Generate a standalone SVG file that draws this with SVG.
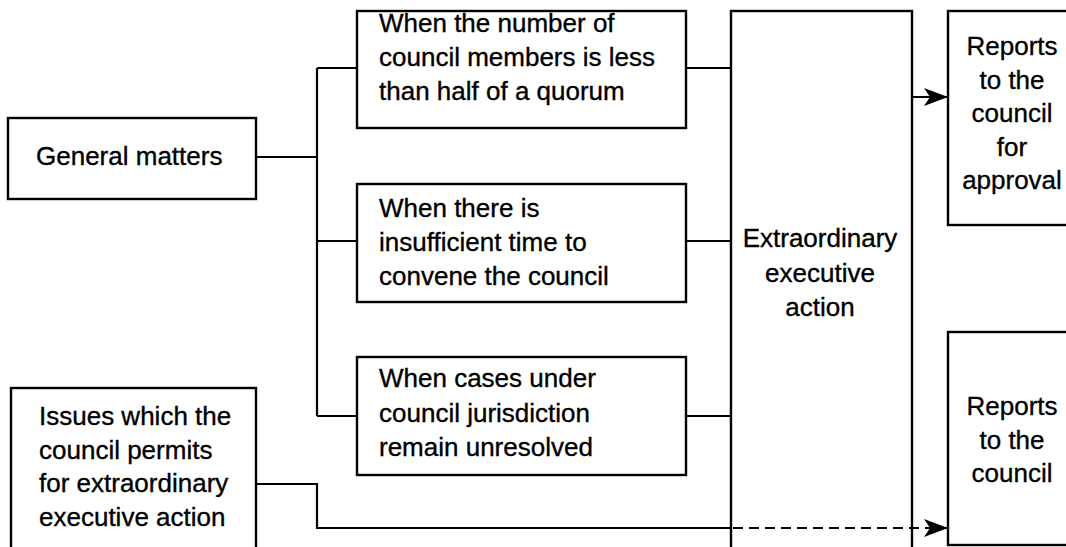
<svg xmlns="http://www.w3.org/2000/svg" width="1066" height="547" viewBox="0 0 1066 547">
  <style>
    .box { fill: #fff; stroke: #000; stroke-width: 2.4; }
    .wire { fill: none; stroke: #000; stroke-width: 2.2; }
    .dash { stroke-dasharray: 10 6; }
    text { font-family: "Liberation Sans", Arial, sans-serif; font-size: 26px; fill: #000; stroke: #000; stroke-width: 0.35; }
    .mid { text-anchor: middle; }
  </style>
  <defs>
    <marker id="arrow" viewBox="0 0 24 18" refX="24" refY="9" markerWidth="24" markerHeight="18" markerUnits="userSpaceOnUse" orient="auto">
      <path d="M0,0 L24,9 L0,18 L6,9 Z" fill="#000" stroke="none"/>
    </marker>
  </defs>
  <rect width="1066" height="547" fill="#fff"/>

  <g id="general-matters">
    <rect class="box" x="8" y="118" width="248" height="81"/>
    <text x="36" y="165">General matters</text>
  </g>

  <g id="issues-permitted">
    <rect class="box" x="11" y="388" width="245" height="180"/>
    <text x="39" y="425">Issues which the</text>
    <text x="39" y="458.5">council permits</text>
    <text x="39" y="492">for extraordinary</text>
    <text x="39" y="525.5">executive action</text>
  </g>

  <g id="cond-quorum">
    <rect class="box" x="357" y="11" width="329" height="117"/>
    <text x="379" y="32">When the number of</text>
    <text x="379" y="66">council members is less</text>
    <text x="379" y="99.5">than half of a quorum</text>
  </g>

  <g id="cond-time">
    <rect class="box" x="357" y="184" width="329" height="118"/>
    <text x="379" y="217">When there is</text>
    <text x="379" y="251">insufficient time to</text>
    <text x="379" y="285">convene the council</text>
  </g>

  <g id="cond-unresolved">
    <rect class="box" x="357" y="357" width="329" height="118"/>
    <text x="379" y="387">When cases under</text>
    <text x="379" y="421.5">council jurisdiction</text>
    <text x="379" y="456">remain unresolved</text>
  </g>

  <g id="extraordinary-action">
    <rect class="box" x="731" y="11" width="181" height="560"/>
    <text class="mid" x="820" y="247">Extraordinary</text>
    <text class="mid" x="820" y="281.5">executive</text>
    <text class="mid" x="820" y="316">action</text>
  </g>

  <g id="report-approval">
    <rect class="box" x="948" y="11" width="140" height="214"/>
    <text class="mid" x="1012" y="55">Reports</text>
    <text class="mid" x="1012" y="88.5">to the</text>
    <text class="mid" x="1012" y="122">council</text>
    <text class="mid" x="1012" y="155.5">for</text>
    <text class="mid" x="1012" y="189">approval</text>
  </g>

  <g id="report-council">
    <rect class="box" x="948" y="332" width="140" height="213"/>
    <text class="mid" x="1012" y="415">Reports</text>
    <text class="mid" x="1012" y="448.5">to the</text>
    <text class="mid" x="1012" y="482">council</text>
  </g>

  <!-- connectors sit on top so the dashed route shows across the action column -->
  <g id="connectors">
    <path class="wire" d="M256,157 H317"/>
    <path class="wire" d="M317,68 V416"/>
    <path class="wire" d="M317,68 H357"/>
    <path class="wire" d="M317,241 H357"/>
    <path class="wire" d="M317,416 H357"/>
    <path class="wire" d="M686,68 H731"/>
    <path class="wire" d="M686,241 H731"/>
    <path class="wire" d="M686,416 H731"/>
    <path class="wire" d="M256,484 H317 V528 H731"/>
    <path class="wire dash" d="M733,528 H948" marker-end="url(#arrow)"/>
    <path class="wire" d="M912,97 H948" marker-end="url(#arrow)"/>
  </g>
</svg>
